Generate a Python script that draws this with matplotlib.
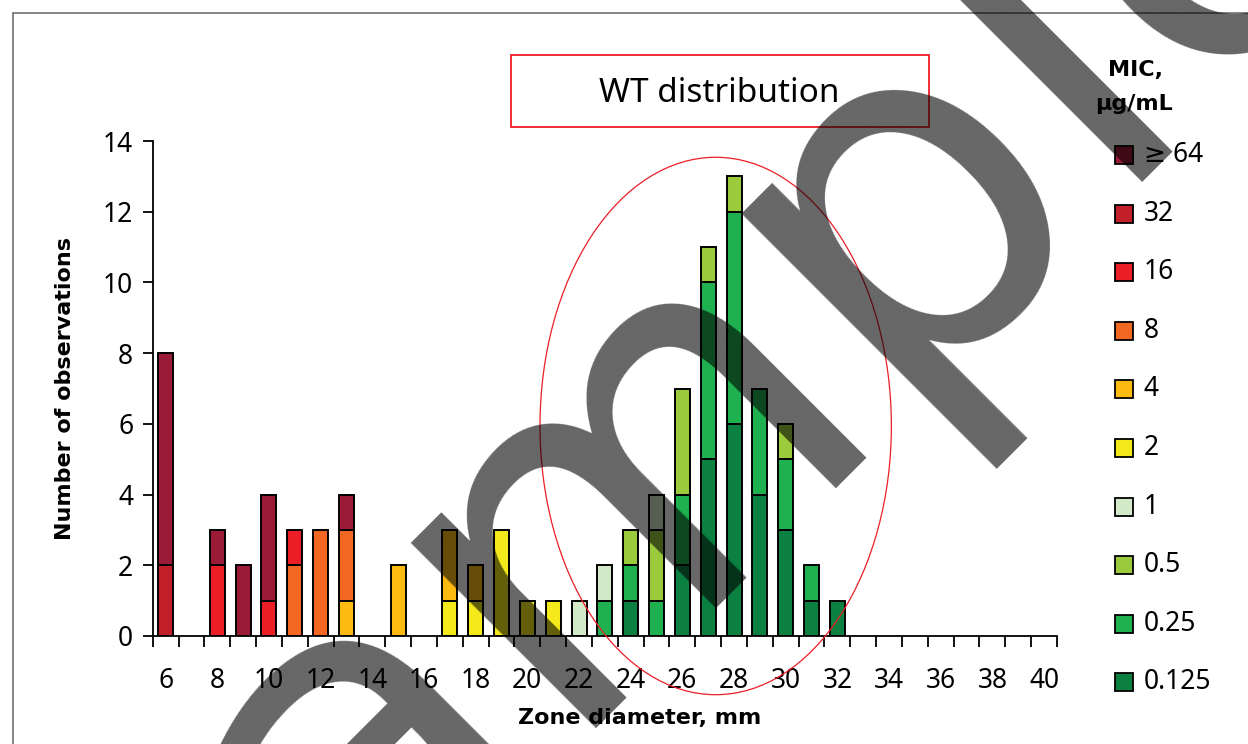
import matplotlib
matplotlib.use('Agg')
import matplotlib.pyplot as plt
from matplotlib.patches import Ellipse, Rectangle
import numpy as np

W, H = 1248, 744

# zone diameters (mm) that carry bars
zone_mm = list(range(6, 33))
# counts per MIC class, stacked bottom to top (ascending MIC)
mic_0125 = [0, 0, 0, 0, 0, 0, 0, 0, 0, 0, 0, 0, 0, 0, 0, 0, 0, 0, 1, 0, 2, 5, 6, 4, 3, 1, 1]
mic_025  = [0, 0, 0, 0, 0, 0, 0, 0, 0, 0, 0, 0, 0, 0, 0, 0, 0, 1, 1, 1, 2, 5, 6, 3, 2, 1, 0]
mic_05   = [0, 0, 0, 0, 0, 0, 0, 0, 0, 0, 0, 0, 0, 0, 0, 0, 0, 0, 1, 2, 3, 1, 1, 0, 1, 0, 0]
mic_1    = [0, 0, 0, 0, 0, 0, 0, 0, 0, 0, 0, 0, 0, 0, 0, 0, 1, 1, 0, 1, 0, 0, 0, 0, 0, 0, 0]
mic_2    = [0, 0, 0, 0, 0, 0, 0, 0, 0, 0, 0, 1, 1, 3, 1, 1, 0, 0, 0, 0, 0, 0, 0, 0, 0, 0, 0]
mic_4    = [0, 0, 0, 0, 0, 0, 0, 1, 0, 2, 0, 2, 1, 0, 0, 0, 0, 0, 0, 0, 0, 0, 0, 0, 0, 0, 0]
mic_8    = [0, 0, 0, 0, 0, 2, 3, 2, 0, 0, 0, 0, 0, 0, 0, 0, 0, 0, 0, 0, 0, 0, 0, 0, 0, 0, 0]
mic_16   = [0, 0, 2, 0, 1, 1, 0, 0, 0, 0, 0, 0, 0, 0, 0, 0, 0, 0, 0, 0, 0, 0, 0, 0, 0, 0, 0]
mic_32   = [2, 0, 0, 0, 0, 0, 0, 0, 0, 0, 0, 0, 0, 0, 0, 0, 0, 0, 0, 0, 0, 0, 0, 0, 0, 0, 0]
mic_64   = [6, 0, 1, 2, 3, 0, 0, 1, 0, 0, 0, 0, 0, 0, 0, 0, 0, 0, 0, 0, 0, 0, 0, 0, 0, 0, 0]

series = [mic_0125, mic_025, mic_05, mic_1, mic_2, mic_4, mic_8, mic_16, mic_32, mic_64]
labels = ['0.125', '0.25', '0.5', '1', '2', '4', '8', '16', '32', '\u2265 64']
colors = ['#0C8040', '#1FB14F', '#9BCA3C', '#D3E9C8', '#F4EA1B',
          '#FDBB12', '#F26722', '#EC1E26', '#C1202B', '#9A1A37']

x_ticks = list(range(6, 41, 2))
y_ticks = list(range(0, 15, 2))

plt.rcParams['font.family'] = ['Noto Sans', 'DejaVu Sans']
BOLD = ['DejaVu Sans']

fig = plt.figure(figsize=(W / 100, H / 100), dpi=100)
ax = fig.add_axes([152.7 / W, 1 - 636 / H, (1057 - 152.7) / W, (636 - 141) / H])

x = np.array(zone_mm)
bottom = np.zeros(len(x))
for vals, c in zip(series, colors):
    v = np.array(vals, dtype=float)
    m = v > 0
    ax.bar(x[m], v[m], bottom=bottom[m], width=0.58, color=c,
           edgecolor='black', linewidth=1.4, zorder=3)
    bottom += v

ax.set_xlim(5.5, 40.5)
ax.set_ylim(0, 14)
for s in ['top', 'right']:
    ax.spines[s].set_visible(False)
for s in ['left', 'bottom']:
    ax.spines[s].set_linewidth(1.3)

ax.set_xticks(x_ticks)
ax.set_xticks(np.arange(5.5, 41, 1), minor=True)
ax.tick_params(axis='x', which='major', length=0, pad=22, labelsize=19)
ax.tick_params(axis='x', which='minor', length=8, width=1.3, direction='out')
ax.set_yticks(y_ticks)
ax.tick_params(axis='y', length=7, width=1.3, pad=7, labelsize=19)

ax.set_xlabel('Zone diameter, mm', fontsize=16, fontweight='bold', family=BOLD)
ax.xaxis.set_label_coords((640 - 152.7) / (1057 - 152.7), (636 - 708) / (636 - 141))
ax.set_ylabel('Number of observations', fontsize=16, fontweight='bold', family=BOLD, labelpad=20)

# WT distribution ellipse
ell = Ellipse((27.29, 5.94), 13.6, 15.2, fill=False, edgecolor='#EC1E26',
              linewidth=0.9, clip_on=False, zorder=4)
ax.add_patch(ell)

# WT distribution box
fig.patches.append(Rectangle((511 / W, 1 - 127 / H), (929 - 511) / W, (127 - 55) / H,
                             transform=fig.transFigure, fill=True, facecolor='white',
                             edgecolor='#EC1E26', linewidth=1.3))
fig.text(719 / W, 1 - 94 / H, 'WT distribution', ha='center', va='center', fontsize=24)

# legend
fig.text(1136 / W, 1 - 70 / H, 'MIC,', ha='center', va='center',
         fontsize=16, fontweight='bold', family=BOLD)
fig.text(1134 / W, 1 - 104 / H, '\u00b5g/mL', ha='center', va='center',
         fontsize=16, fontweight='bold', family=BOLD)
for i, (lab, c) in enumerate(zip(labels[::-1], colors[::-1])):
    yc = 155 + i * 58.6
    fig.patches.append(Rectangle((1115 / W, 1 - (yc + 9) / H), 18 / W, 18 / H,
                                 transform=fig.transFigure, facecolor=c,
                                 edgecolor='black', linewidth=1.3))
    fig.text(1144 / W, 1 - yc / H, lab, ha='left', va='center', fontsize=19)

# outer frame
fig.patches.append(Rectangle((13 / W, -0.1), 1.2, 1 - 13 / H + 0.1,
                             transform=fig.transFigure, fill=False,
                             edgecolor='#707070', linewidth=1.2))

# watermark
fig.text(790 / W, 1 - 508 / H, 'sample', rotation=45, rotation_mode='anchor',
         ha='center', va='baseline', fontsize=345, color='black', alpha=0.6,
         family='DejaVu Sans', zorder=10)

fig.savefig('out.png', dpi=100)
